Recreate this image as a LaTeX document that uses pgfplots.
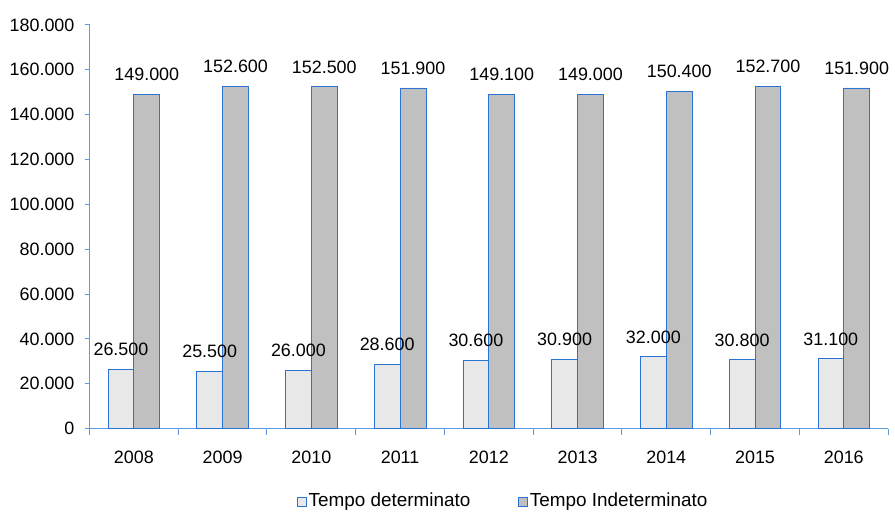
\documentclass[border=0pt]{standalone}
\usepackage{fontspec}
\setmainfont{Liberation Sans}
\usepackage{pgfplots}
\pgfplotsset{compat=1.18}
\definecolor{edgeblue}{HTML}{2A73D4}
\definecolor{axisblue}{HTML}{5E9BE0}
\definecolor{lightbar}{HTML}{E8E8E8}
\definecolor{darkbar}{HTML}{C0C0C0}

\begin{document}
\fontsize{18}{21}\selectfont
\begin{tikzpicture}
\begin{axis}[
  scale only axis, width=803pt, height=406pt,
  font=\fontsize{18}{21}\selectfont,
  ymin=0, ymax=180000, ytick={0,20000,...,180000},
  xmin=-0.5, xmax=8.5,
  xtick={0,...,8},
  xticklabels={2008,2009,2010,2011,2012,2013,2014,2015,2016},
  minor xtick={-0.5,0.5,...,8.5},
  major x tick style={draw=none},
  axis x line=bottom, axis y line=left,
  axis line style={-, draw=axisblue, line width=1pt},
  tick align=outside,
  tick style={draw=axisblue, line width=1pt},
  major tick length=5pt, minor tick length=6pt,
  scaled y ticks=false,
  /pgf/number format/fixed,
  /pgf/number format/1000 sep={.},
  /pgf/number format/assume math mode=true,
  xticklabel style={yshift=-11pt},
  yticklabel style={xshift=-4pt},
  ybar, bar width=26pt,
  nodes near coords={\pgfmathprintnumber[fixed,precision=0,1000 sep={.}]{\pgfplotspointmeta}},
  every node near coord/.append style={font=\fontsize{18}{21}\selectfont, yshift=7pt, text=black},
  legend columns=2,
  reverse legend,
  legend style={draw=none, inner sep=0pt, at={(0.518,-0.178)}, anchor=center,
    font=\fontsize{19}{22}\selectfont,
    /tikz/every even column/.append style={column sep=46pt}},
  legend image code/.code={\draw[#1, draw=edgeblue, line width=0.8pt] (0pt,-6pt) rectangle (9pt,3pt);},
]
% open-ended contracts, drawn first so the other labels stay on top
\addplot[fill=darkbar, draw=edgeblue, line width=0.8pt, bar shift=13pt]
  coordinates {(0,149000) (1,152600) (2,152500) (3,151900) (4,149100)
               (5,149000) (6,150400) (7,152700) (8,151900)};
% fixed-term contracts
\addplot[fill=lightbar, draw=edgeblue, line width=0.8pt, bar shift=-13pt]
  coordinates {(0,26500) (1,25500) (2,26000) (3,28600) (4,30600)
               (5,30900) (6,32000) (7,30800) (8,31100)};
\legend{Tempo Indeterminato, Tempo determinato}
\end{axis}
\path ([shift={(-90pt,-84pt)}]current axis.south west) rectangle ([shift={(2pt,25pt)}]current axis.north east);
\end{tikzpicture}
\end{document}
